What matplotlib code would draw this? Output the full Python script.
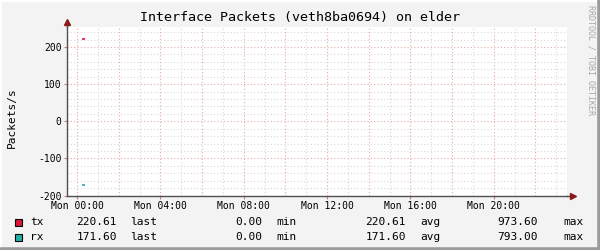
import matplotlib
matplotlib.use("Agg")
import matplotlib.pyplot as plt
from matplotlib.patches import Rectangle
from matplotlib.lines import Line2D

# data (hours since Mon 00:00), rx is drawn mirrored below zero
tx_hours = [0.24, 0.40]
tx_values = [220.61, 220.61]
rx_hours = [0.24, 0.40]
rx_values = [171.60, 171.60]

tick_hours = [0, 4, 8, 12, 16, 20]
tick_labels = ["Mon 00:00", "Mon 04:00", "Mon 08:00", "Mon 12:00", "Mon 16:00", "Mon 20:00"]
y_ticks = [-200, -100, 0, 100, 200]

legend_names = ["tx", "rx"]
legend_colors = ["#DC143C", "#20B2AA"]
legend_last = ["220.61", "171.60"]
legend_min = ["0.00", "0.00"]
legend_avg = ["220.61", "171.60"]
legend_max = ["973.60", "793.00"]

W, H = 600, 250
plt.rcParams["font.family"] = "DejaVu Sans Mono"

fig = plt.figure(figsize=(6, 2.5), dpi=100, facecolor="#F3F3F3")


def px(x, y):
    """pixel (from top-left) -> figure fraction"""
    return x / W, 1 - y / H


left, right, top, bottom = 67, 567, 26.5, 195.5
ax = fig.add_axes([left / W, 1 - bottom / H, (right - left) / W, (bottom - top) / H])
ax.set_facecolor("white")

ax.plot(tx_hours, tx_values, color=legend_colors[0], lw=1.2, solid_capstyle="butt")
ax.plot(rx_hours, [-v for v in rx_values], color=legend_colors[1], lw=1.2, solid_capstyle="butt")

ax.set_xlim(-0.48, 23.52)
ax.set_ylim(-200, 255)

# grid: minor grey, major reddish
for h in range(0, 24):
    c = "#E8A8A8" if h % 2 == 0 else "#D8D8D8"
    ax.axvline(h, color=c, lw=0.8, ls=(0, (1, 2)), zorder=0)
for v in range(-200, 256, 20):
    c = "#E8A8A8" if v % 100 == 0 else "#D8D8D8"
    ax.axhline(v, color=c, lw=0.8, ls=(0, (1, 2)), zorder=0)

ax.set_xticks(tick_hours)
ax.set_xticklabels(tick_labels, fontsize=7)
ax.set_yticks(y_ticks)
ax.set_yticklabels([str(v) for v in y_ticks], fontsize=7)
ax.tick_params(length=2, width=0.8, color="#C08080", pad=2)

for s in ["top", "right"]:
    ax.spines[s].set_visible(False)
for s in ["left", "bottom"]:
    ax.spines[s].set_color("#505050")
    ax.spines[s].set_linewidth(1)

# axis arrows
ax.plot([1.0, 1.012], [0, 0], transform=ax.transAxes, color="#505050", lw=1, clip_on=False)
ax.plot([1.012], [0], transform=ax.transAxes, marker=">", ms=4, color="#8B1A1A", clip_on=False)
ax.plot([0, 0], [1.0, 1.02], transform=ax.transAxes, color="#505050", lw=1, clip_on=False)
ax.plot([0], [1.025], transform=ax.transAxes, marker="^", ms=4, color="#8B1A1A", clip_on=False)

# titles
fig.text(*px(300, 18), "Interface Packets (veth8ba0694) on elder", ha="center", va="center", fontsize=9.6)
fig.text(*px(12, 118), "Packets/s", rotation=90, ha="center", va="center", fontsize=8)
fig.text(*px(591, 60), "RRDTOOL / TOBI OETIKER", rotation=270, ha="center", va="center",
         fontsize=6, color="#A8A8A8")

# legend
for i in range(2):
    y = 222 + 15 * i
    fx, fy = px(15, y + 3.5)
    fig.patches.append(Rectangle((fx, fy), 7 / W, 7 / H, transform=fig.transFigure,
                                 facecolor=legend_colors[i], edgecolor="black", lw=0.8))
    fig.text(*px(30, y), legend_names[i], va="center", fontsize=8)
    fig.text(*px(117, y), legend_last[i], ha="right", va="center", fontsize=8)
    fig.text(*px(130, y), "last", va="center", fontsize=8)
    fig.text(*px(262, y), legend_min[i], ha="right", va="center", fontsize=8)
    fig.text(*px(276, y), "min", va="center", fontsize=8)
    fig.text(*px(406, y), legend_avg[i], ha="right", va="center", fontsize=8)
    fig.text(*px(420, y), "avg", va="center", fontsize=8)
    fig.text(*px(538, y), legend_max[i], ha="right", va="center", fontsize=8)
    fig.text(*px(563, y), "max", va="center", fontsize=8)

# 3d frame around the image
fig.add_artist(Line2D([0, 0], [0, 1], color="#FFFFFF", lw=3, transform=fig.transFigure))
fig.add_artist(Line2D([0, 1], [1, 1], color="#FFFFFF", lw=3, transform=fig.transFigure))
fig.add_artist(Line2D([1, 1], [0, 1], color="#9A9A9A", lw=4, transform=fig.transFigure))
fig.add_artist(Line2D([0, 1], [0, 0], color="#9A9A9A", lw=4, transform=fig.transFigure))

fig.savefig("out.png", dpi=100, facecolor=fig.get_facecolor())
